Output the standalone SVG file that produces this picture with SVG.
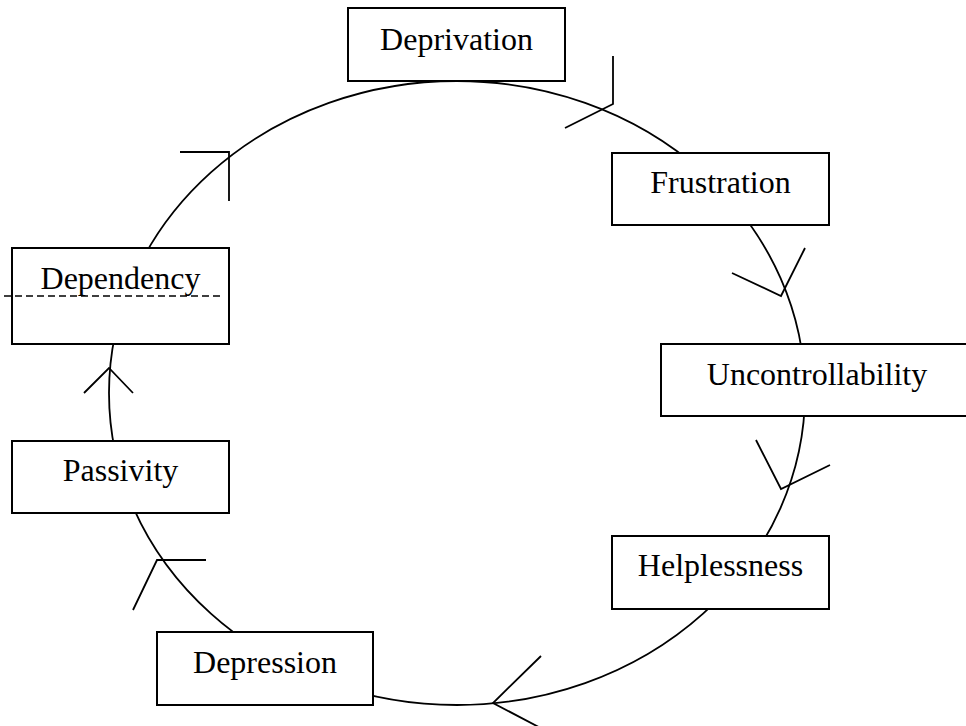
<svg xmlns="http://www.w3.org/2000/svg" width="966" height="726" viewBox="0 0 966 726">
<style>
.box{fill:#fff;stroke:#000;stroke-width:2}
.lbl{font-family:"Liberation Serif","Times New Roman",serif;font-size:32px;fill:#000;text-anchor:middle}
.arr{fill:none;stroke:#000;stroke-width:1.8}
</style>
<rect width="966" height="726" fill="#fff"/>
<g id="connectors">
<ellipse cx="457" cy="393" rx="348" ry="312" class="arr"/>
<polyline class="arr" points="613,56 613,104 565,128"/>
<polyline class="arr" points="732,273 781,296 805,248"/>
<polyline class="arr" points="756,440 781,489 830,465"/>
<polyline class="arr" points="541,656 493,703 552,734"/>
<polyline class="arr" points="133,610 157,560 206,560"/>
<polyline class="arr" points="84,393 109,368 133,393"/>
<polyline class="arr" points="180,152 229,152 229,201"/>
</g>
<g id="deprivation"><rect class="box" x="348" y="8" width="217" height="73"/><text class="lbl" x="456.5" y="50">Deprivation</text></g>
<g id="frustration"><rect class="box" x="612" y="153" width="217" height="72"/><text class="lbl" x="720.5" y="193">Frustration</text></g>
<g id="uncontrollability"><rect class="box" x="661" y="344" width="312" height="72"/><text class="lbl" x="817" y="385">Uncontrollability</text></g>
<g id="helplessness"><rect class="box" x="612" y="536" width="217" height="73"/><text class="lbl" x="720.5" y="576">Helplessness</text></g>
<g id="depression"><rect class="box" x="157" y="632" width="216" height="73"/><text class="lbl" x="265" y="673">Depression</text></g>
<g id="passivity"><rect class="box" x="12" y="441" width="217" height="72"/><text class="lbl" x="120.5" y="481">Passivity</text></g>
<g id="dependency"><rect class="box" x="12" y="248" width="217" height="96"/><text class="lbl" x="120.5" y="289">Dependency</text>
<line x1="4" y1="296" x2="222" y2="296" stroke="#000" stroke-width="1.5" stroke-dasharray="7,4"/></g>
</svg>
